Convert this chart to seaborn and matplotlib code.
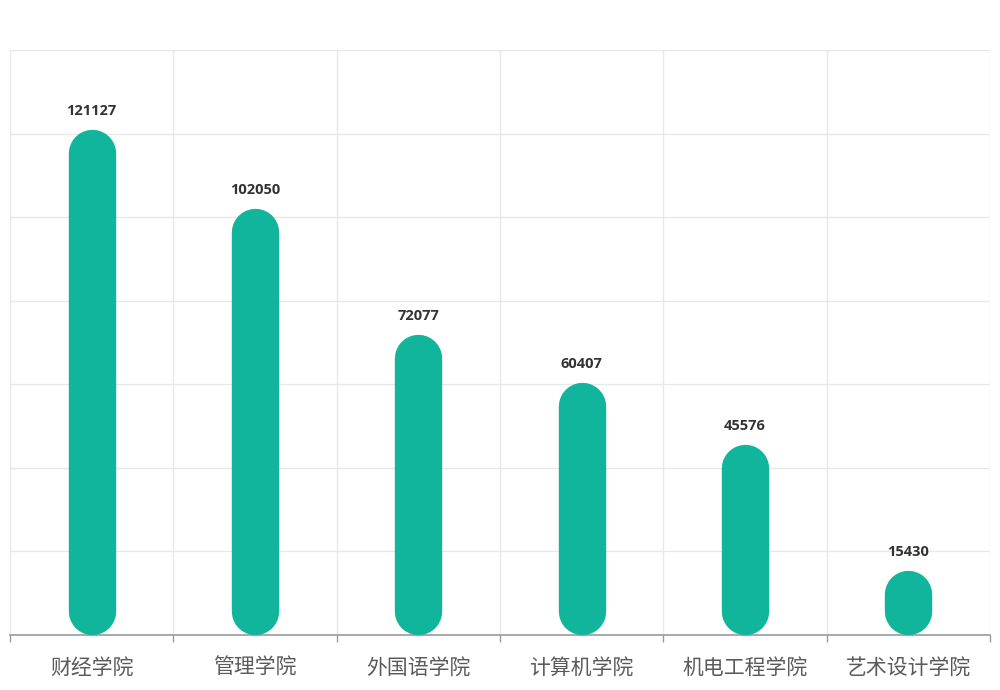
import matplotlib
matplotlib.use("Agg")
import matplotlib.pyplot as plt
from matplotlib.lines import Line2D
import seaborn as sns
import pandas as pd

# data
colleges = ['财经学院', '管理学院', '外国语学院', '计算机学院', '机电工程学院', '艺术设计学院']
counts = [121127, 102050, 72077, 60407, 45576, 15430]

bar_color = '#11b59b'

sns.set_theme(style='white')
plt.rcParams['font.family'] = ['Noto Sans CJK SC', 'DejaVu Sans']

df = pd.DataFrame({'college': colleges, 'count': counts})

fig = plt.figure(figsize=(10, 6.9), dpi=100)
ax = fig.add_axes([0.01, 55 / 690, 0.98, 585 / 690])

sns.barplot(data=df, x='college', y='count', color=bar_color, width=0.29, ax=ax)

ax.set_ylim(0, 140000)
ax.set_xlim(-0.5, len(colleges) - 0.5)

# grid lines
for yv in range(20000, 140001, 20000):
    ax.axhline(yv, color='#e8e8e8', lw=1, zorder=0)
for xv in [i - 0.5 for i in range(len(colleges) + 1)]:
    ax.axvline(xv, color='#e8e8e8', lw=1, zorder=0)

for s in ['top', 'right', 'left']:
    ax.spines[s].set_visible(False)
ax.spines['bottom'].set_color('#9a9a9a')
ax.spines['bottom'].set_linewidth(1.2)

ax.set_yticks([])
ax.set_xticks([i - 0.5 for i in range(len(colleges) + 1)], minor=True)
ax.tick_params(axis='x', which='minor', length=5, color='#9a9a9a', direction='out', bottom=True)
ax.tick_params(axis='x', which='major', length=0, labelsize=15, labelcolor='#5a5a5a', pad=16)
ax.set_xlabel('')
ax.set_ylabel('')

# swap the square bars for capsule shapes (thick line with round caps, pixel space)
fig.canvas.draw()
for p in list(ax.patches):
    x0, y0 = ax.transData.transform((p.get_x(), 0))
    x1, y1 = ax.transData.transform((p.get_x() + p.get_width(), p.get_height()))
    w = x1 - x0
    r = w / 2
    cx = (x0 + x1) / 2
    ya = y0 + r
    yb = max(y1 - r, ya)
    cap = Line2D([cx, cx], [ya, yb], transform=None, color=bar_color,
                 linewidth=w * 72 / fig.dpi, solid_capstyle='round', zorder=3)
    fig.lines.append(cap)
    cap.set_figure(fig)
    p.set_visible(False)

for i, v in enumerate(counts):
    ax.annotate(str(v), (i, v), xytext=(0, 8), textcoords='offset points',
                ha='center', va='bottom', fontsize=10.5, fontweight='bold', color='#333333',
                family=['Open Sans', 'DejaVu Sans'])

fig.savefig('out.png', dpi=100)
